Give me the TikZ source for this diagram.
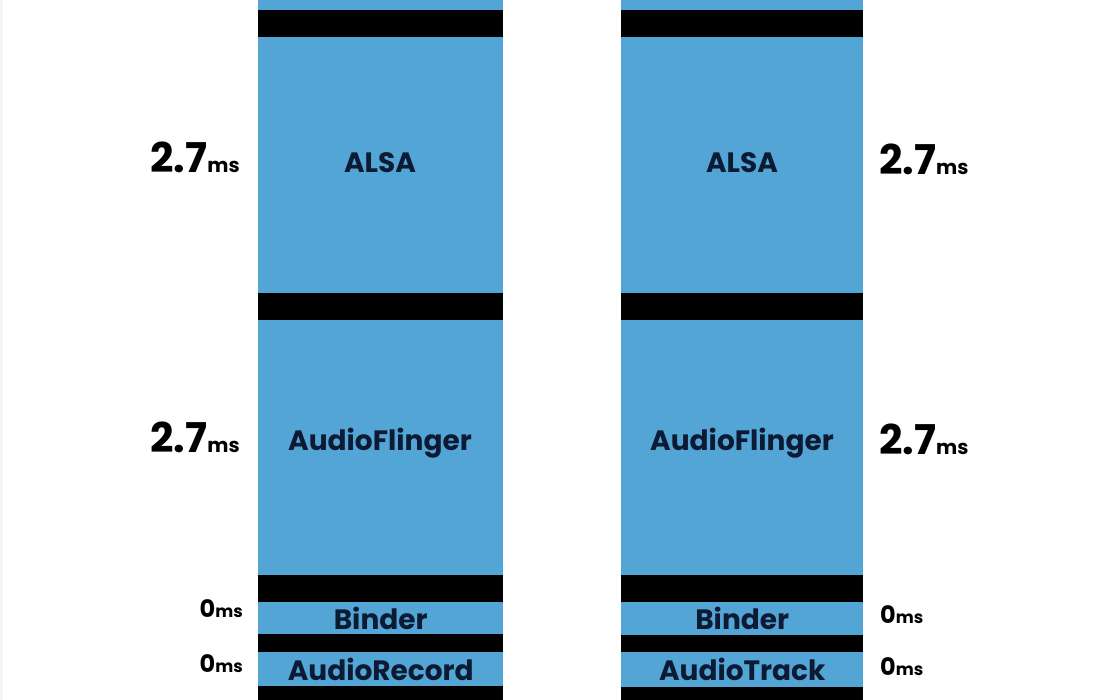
\documentclass[tikz,border=0pt]{standalone}
\usepackage{fontspec}
\setmainfont{Poppins}
\definecolor{blkblue}{HTML}{53A5D6}
\definecolor{navy}{HTML}{0C1B33}
\tikzset{
  blockbox/.style={fill=blkblue, draw=none, inner sep=0pt, anchor=north west, text=navy,
    font=\bfseries\fontsize{28}{28}\selectfont},
  barbox/.style={fill=black, draw=none, inner sep=0pt, anchor=north west},
  biglabel/.style={inner sep=0pt, text=black, font=\bfseries\fontsize{41}{41}\selectfont},
  smalllabel/.style={inner sep=0pt, text=black, font=\bfseries\fontsize{24}{24}\selectfont}
}
\newcommand{\unitms}[1]{{\fontsize{#1}{#1}\selectfont ms}}
\begin{document}
\begin{tikzpicture}[x=1pt,y=-1pt]
\useasboundingbox (0,0) rectangle (1120,700);
\fill[white] (0,0) rectangle (1120,700);
\fill[gray!8] (0,0) rectangle (3,700);
% left column
\node[blockbox, minimum width=245pt, minimum height=10pt] (Ltop) at (258,0) {};
\node[barbox, minimum width=245pt, minimum height=27pt] (Lb1) at (258,10) {};
\node[blockbox, minimum width=245pt, minimum height=256pt] (Lalsa) at (258,37) {};
\node[text=navy, font=\bfseries\fontsize{28}{28}\selectfont, inner sep=0pt] (Lalsat) at (380,163) {ALSA};
\node[barbox, minimum width=245pt, minimum height=27pt] (Lb2) at (258,293) {};
\node[blockbox, minimum width=245pt, minimum height=255pt] (Laf) at (258,320) {};
\node[text=navy, font=\bfseries\fontsize{28}{28}\selectfont, inner sep=0pt] (Laft) at (380,443) {AudioFlinger};
\node[barbox, minimum width=245pt, minimum height=27pt] (Lb3) at (258,575) {};
\node[blockbox, minimum width=245pt, minimum height=32pt] (Lbinder) at (258,602) {Binder};
\node[barbox, minimum width=245pt, minimum height=18pt] (Lb4) at (258,634) {};
\node[blockbox, minimum width=245pt, minimum height=34pt] (Lrec) at (258,652) {AudioRecord};
\node[barbox, minimum width=245pt, minimum height=14pt] (Lb5) at (258,686) {};
% right column
\node[blockbox, minimum width=242pt, minimum height=10pt] (Rtop) at (621,0) {};
\node[barbox, minimum width=242pt, minimum height=27pt] (Rb1) at (621,10) {};
\node[blockbox, minimum width=242pt, minimum height=256pt] (Ralsa) at (621,37) {};
\node[text=navy, font=\bfseries\fontsize{28}{28}\selectfont, inner sep=0pt] (Ralsat) at (742,163) {ALSA};
\node[barbox, minimum width=242pt, minimum height=27pt] (Rb2) at (621,293) {};
\node[blockbox, minimum width=242pt, minimum height=255pt] (Raf) at (621,320) {};
\node[text=navy, font=\bfseries\fontsize{28}{28}\selectfont, inner sep=0pt] (Raft) at (742,443) {AudioFlinger};
\node[barbox, minimum width=242pt, minimum height=27pt] (Rb3) at (621,575) {};
\node[blockbox, minimum width=242pt, minimum height=33pt] (Rbinder) at (621,602) {Binder};
\node[barbox, minimum width=242pt, minimum height=17pt] (Rb4) at (621,635) {};
\node[blockbox, minimum width=242pt, minimum height=35pt] (Rtrack) at (621,652) {AudioTrack};
\node[barbox, minimum width=242pt, minimum height=13pt] (Rb5) at (621,687) {};
% labels
\node[biglabel, anchor=base east] (L1) at (240,173) {2.7\unitms{20}};
\node[biglabel, anchor=base east] (L2) at (240,453) {2.7\unitms{20}};
\node[smalllabel, anchor=base east] (L3) at (243,617) {0\unitms{17}};
\node[smalllabel, anchor=base east] (L4) at (243,672) {0\unitms{17}};
\node[biglabel, anchor=base west] (R1) at (879,175) {2.7\unitms{20}};
\node[biglabel, anchor=base west] (R2) at (879,455) {2.7\unitms{20}};
\node[smalllabel, anchor=base west] (R3) at (880,623) {0\unitms{17}};
\node[smalllabel, anchor=base west] (R4) at (880,675) {0\unitms{17}};
\end{tikzpicture}
\end{document}
